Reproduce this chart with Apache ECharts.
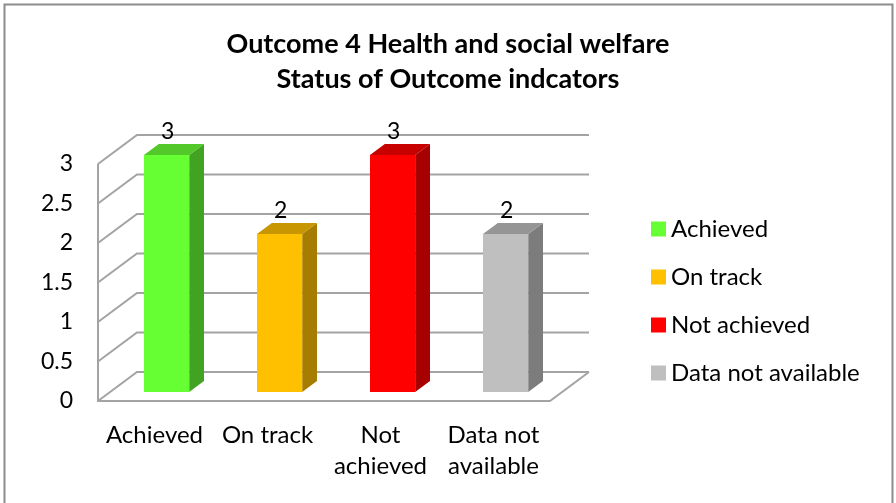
<!DOCTYPE html>
<html>
<head>
    <meta charset="utf-8">
    <title>Outcome 4</title>
    <script src="https://cdn.jsdelivr.net/npm/echarts@6/dist/echarts.min.js"></script>
</head>
<body style="margin:0;">
    <div id="div_chart" style="width: 896px; height:503px;"></div>

    <script type="text/javascript">
        var categories = ['Achieved', 'On track', 'Not achieved', 'Data not available'];
        var axisLabels = ['Achieved', 'On track', 'Not\nachieved', 'Data not\navailable'];
        var values = [3, 2, 3, 2];
        var ticks = [0, 0.5, 1, 1.5, 2, 2.5, 3];
        var frontColors = ['#66FF33', '#FFC000', '#FF0000', '#BFBFBF'];
        var topColors = ['#52C82A', '#C79600', '#C70000', '#959595'];
        var sideColors = ['#42A322', '#A67D00', '#A60000', '#7C7C7C'];

        var FONT = 'Lato';
        // depth of the plot box as a fraction of one category band
        var DX = 0.345, DY = -0.257;

        var myChart = echarts.init(document.getElementById('div_chart'));

        function renderWall(params, api) {
            var cs = params.coordSys;
            var band = api.size([1, 0])[0];
            var dx = DX * band, dy = DY * band;
            var t = api.value(1);
            var y = api.coord([0, t])[1];
            var x0 = cs.x, x1 = cs.x + cs.width;
            var style = { stroke: '#A3A3A3', lineWidth: 2, fill: null };
            var children = [{
                type: 'polyline',
                shape: { points: [[x0, y], [x0 + dx, y + dy], [x1 + dx, y + dy]] },
                style: style
            }];
            if (t === 0) {
                children.push({
                    type: 'polyline',
                    shape: { points: [[x0, cs.y], [x0, y], [x1, y], [x1 + dx, y + dy]] },
                    style: style
                });
            }
            return { type: 'group', children: children };
        }

        function renderBar(params, api) {
            var i = params.seriesIndex - 1;
            var band = api.size([1, 0])[0];
            var dx = DX * band, dy = DY * band;
            var base = api.coord([api.value(0), 0]);
            var top = api.coord([api.value(0), api.value(1)]);
            var w = band * 0.4;
            var f1 = 0.31, f2 = 0.69;
            var l = base[0] - w / 2 + dx * f1, r = l + w;
            var b = base[1] + dy * f1, tp = top[1] + dy * f1;
            var ox = dx * (f2 - f1), oy = dy * (f2 - f1);
            return {
                type: 'group',
                children: [{
                    type: 'polygon',
                    shape: { points: [[r, b], [r + ox, b + oy], [r + ox, tp + oy], [r, tp]] },
                    style: { fill: sideColors[i] }
                }, {
                    type: 'polygon',
                    shape: { points: [[l, tp], [r, tp], [r + ox, tp + oy], [l + ox, tp + oy]] },
                    style: { fill: topColors[i] }
                }, {
                    type: 'rect',
                    shape: { x: l, y: tp, width: w, height: b - tp },
                    style: { fill: frontColors[i] }
                }, {
                    type: 'text',
                    style: {
                        text: String(api.value(1)),
                        x: (l + r) / 2 + 1,
                        y: tp + oy - 1,
                        align: 'center',
                        verticalAlign: 'bottom',
                        font: '23px ' + FONT,
                        fill: '#000'
                    }
                }]
            };
        }

        var series = [{
            name: 'walls',
            type: 'custom',
            renderItem: renderWall,
            data: ticks.map(function (t) { return [0, t]; }),
            silent: true,
            z: 1
        }];
        categories.forEach(function (c, i) {
            series.push({
                name: c,
                type: 'custom',
                renderItem: renderBar,
                itemStyle: { color: frontColors[i] },
                data: [[i, values[i]]],
                z: 2
            });
        });

        myChart.setOption({
            animation: false,
            title: {
                text: 'Outcome 4 Health and social welfare\nStatus of Outcome indcators',
                left: 'center',
                top: 22,
                textStyle: {
                    fontFamily: FONT,
                    fontWeight: 'bold',
                    fontSize: 27,
                    lineHeight: 35,
                    color: '#000'
                }
            },
            legend: {
                orient: 'vertical',
                left: 646,
                top: 212,
                icon: 'rect',
                itemWidth: 15,
                itemHeight: 15,
                itemGap: 24,
                data: categories,
                textStyle: { fontFamily: FONT, fontSize: 24, lineHeight: 24, color: '#000' }
            },
            grid: { left: 98, right: 346, top: 164, bottom: 102 },
            xAxis: {
                type: 'category',
                data: categories,
                axisLine: { show: false },
                axisTick: { show: false },
                axisLabel: {
                    interval: 0,
                    margin: 19,
                    fontFamily: FONT,
                    fontSize: 24,
                    lineHeight: 31,
                    color: '#000',
                    formatter: function (v, idx) { return axisLabels[idx]; }
                }
            },
            yAxis: {
                type: 'value',
                min: 0,
                max: 3,
                interval: 0.5,
                axisLine: { show: false },
                axisTick: { show: false },
                splitLine: { show: false },
                axisLabel: { margin: 25, fontFamily: FONT, fontSize: 23, color: '#000' }
            },
            graphic: [{
                type: 'rect',
                shape: { x: 4.5, y: 4.5, width: 888, height: 520 },
                style: { fill: null, stroke: '#8C8C8C', lineWidth: 2 },
                silent: true
            }],
            series: series
        });
    </script>
</body>
</html>
